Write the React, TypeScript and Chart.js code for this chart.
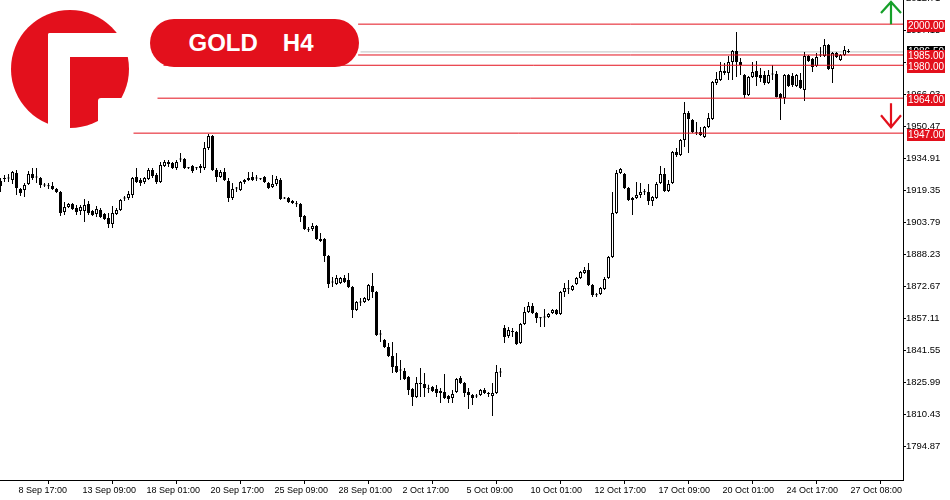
import React, { useEffect, useRef } from "react";
import { Chart, registerables } from "chart.js";

Chart.register(...registerables);

const opens = [
  1923.7, 1924.7, 1925.2, 1924.2, 1927.6, 1919.8, 1919.4, 1922.3, 1927.1, 1925.4,
  1925.2, 1921.8, 1921.5, 1921.3, 1919.8, 1918.4, 1908.7, 1911.1, 1912.5, 1910.6,
  1909.1, 1909.1, 1912.5, 1909.1, 1907.7, 1909.6, 1907.7, 1905.7, 1902.8, 1907.7,
  1909.6, 1915.2, 1915.5, 1916.9, 1925.7, 1924.2, 1923.2, 1924.7, 1929.1, 1926.6,
  1923.2, 1931.0, 1932.0, 1932.5, 1930.1, 1934.2, 1934.4, 1930.1, 1931.0, 1929.9,
  1930.1, 1930.1, 1939.8, 1945.6, 1929.1, 1925.7, 1928.1, 1923.7, 1915.5, 1920.1,
  1919.4, 1923.2, 1924.2, 1925.7, 1924.9, 1924.9, 1925.7, 1922.8, 1920.8, 1922.3,
  1924.2, 1915.2, 1915.5, 1914.0, 1912.7, 1912.5, 1906.7, 1900.1, 1900.4, 1901.9,
  1895.5, 1895.5, 1887.3, 1874.4, 1873.6, 1874.1, 1876.6, 1875.6, 1872.2, 1861.0,
  1864.7, 1864.9, 1865.9, 1872.7, 1869.8, 1849.1, 1846.4, 1843.0, 1838.6, 1833.8,
  1831.6, 1831.3, 1828.4, 1822.6, 1818.7, 1825.3, 1825.0, 1822.8, 1823.6, 1822.6,
  1821.6, 1821.1, 1819.2, 1818.2, 1821.1, 1827.9, 1825.5, 1821.1, 1819.7, 1819.0,
  1819.7, 1822.1, 1820.5, 1819.2, 1820.6, 1830.6, 1852.3, 1848.4, 1850.3, 1850.3,
  1845.0, 1854.2, 1860.0, 1862.9, 1859.5, 1857.3, 1857.3, 1857.6, 1859.5, 1861.0,
  1859.1, 1869.8, 1871.4, 1870.7, 1873.6, 1876.6, 1879.0, 1880.5, 1873.2, 1868.5,
  1868.8, 1871.2, 1876.6, 1886.8, 1908.2, 1927.6, 1927.1, 1920.3, 1915.5, 1915.5,
  1916.9, 1918.5, 1918.4, 1914.0, 1915.5, 1922.8, 1927.1, 1918.9, 1922.8, 1937.8,
  1936.4, 1943.7, 1956.8, 1953.4, 1947.3, 1947.6, 1945.1, 1950.0, 1953.9, 1971.4,
  1972.8, 1976.2, 1976.2, 1981.6, 1986.9, 1981.6, 1975.3, 1965.6, 1974.3, 1977.2,
  1975.3, 1975.3, 1971.4, 1975.5, 1975.8, 1966.0, 1964.1, 1975.3, 1974.8, 1969.9,
  1972.8, 1968.0, 1984.5, 1983.1, 1979.7, 1984.8, 1984.5, 1989.9, 1978.2, 1986.0,
  1982.6, 1985.0, 1986.7,
];

const highs = [
  1925.2, 1926.6, 1927.1, 1928.6, 1929.1, 1920.3, 1922.8, 1928.6, 1930.1, 1930.1,
  1925.7, 1922.8, 1922.8, 1923.2, 1920.3, 1918.9, 1913.5, 1913.0, 1913.0, 1912.1,
  1912.1, 1915.0, 1914.0, 1909.6, 1911.6, 1910.6, 1908.2, 1908.2, 1911.6, 1910.6,
  1915.0, 1916.4, 1918.9, 1925.7, 1930.1, 1925.2, 1925.7, 1930.1, 1930.1, 1927.6,
  1933.0, 1933.9, 1933.9, 1933.0, 1933.9, 1937.3, 1934.9, 1930.5, 1931.5, 1930.5,
  1932.0, 1942.7, 1946.6, 1946.1, 1930.1, 1929.1, 1930.1, 1925.2, 1922.8, 1920.8,
  1923.7, 1924.7, 1928.1, 1928.1, 1926.6, 1925.2, 1926.2, 1923.2, 1926.6, 1926.2,
  1925.2, 1916.0, 1916.0, 1914.5, 1914.0, 1913.0, 1907.2, 1901.4, 1903.3, 1902.3,
  1898.4, 1896.0, 1887.8, 1877.0, 1878.0, 1877.1, 1878.0, 1879.0, 1872.7, 1865.4,
  1866.8, 1867.3, 1873.6, 1879.0, 1870.2, 1851.3, 1846.9, 1845.0, 1845.4, 1840.1,
  1836.7, 1832.8, 1828.9, 1823.1, 1828.4, 1832.8, 1830.4, 1824.6, 1824.1, 1824.5,
  1823.1, 1829.9, 1819.7, 1822.1, 1827.9, 1828.9, 1826.0, 1823.1, 1820.2, 1820.2,
  1822.6, 1823.1, 1821.1, 1825.5, 1834.3, 1832.8, 1853.7, 1852.7, 1852.3, 1850.8,
  1854.7, 1862.5, 1864.9, 1864.4, 1860.0, 1857.6, 1861.5, 1859.5, 1861.5, 1861.5,
  1870.2, 1874.1, 1875.6, 1873.2, 1877.1, 1880.0, 1881.9, 1883.9, 1873.6, 1869.3,
  1872.2, 1877.1, 1887.3, 1918.4, 1929.1, 1930.1, 1927.6, 1920.8, 1916.0, 1923.2,
  1922.8, 1919.8, 1922.3, 1916.4, 1923.2, 1931.0, 1930.1, 1924.2, 1938.3, 1939.8,
  1944.2, 1962.1, 1957.8, 1953.9, 1952.4, 1950.0, 1950.5, 1956.8, 1972.4, 1976.7,
  1981.6, 1981.1, 1984.5, 1987.4, 1996.2, 1983.5, 1975.8, 1974.8, 1981.6, 1982.1,
  1978.7, 1977.2, 1977.7, 1980.1, 1977.2, 1966.5, 1975.8, 1975.8, 1976.2, 1975.8,
  1976.2, 1986.5, 1985.0, 1983.5, 1986.0, 1988.9, 1992.8, 1990.3, 1986.5, 1986.5,
  1985.5, 1989.4, 1987.9,
];

const lows = [
  1918.4, 1923.2, 1923.2, 1922.3, 1916.9, 1916.4, 1916.0, 1921.8, 1924.2, 1922.8,
  1920.3, 1920.8, 1919.8, 1919.4, 1917.9, 1906.7, 1907.2, 1910.6, 1909.6, 1907.2,
  1907.2, 1903.8, 1907.2, 1906.7, 1906.2, 1905.7, 1904.8, 1900.9, 1900.9, 1907.2,
  1909.1, 1914.0, 1914.5, 1915.5, 1922.8, 1921.3, 1922.3, 1924.2, 1925.2, 1922.3,
  1922.8, 1930.5, 1930.5, 1929.6, 1929.1, 1933.0, 1929.6, 1929.6, 1927.6, 1929.1,
  1927.6, 1929.1, 1938.8, 1928.6, 1923.2, 1925.2, 1923.7, 1913.5, 1914.5, 1918.4,
  1918.9, 1922.3, 1923.7, 1923.7, 1923.7, 1924.2, 1922.8, 1919.8, 1920.3, 1921.3,
  1914.5, 1915.0, 1913.0, 1912.5, 1911.1, 1903.8, 1899.9, 1898.9, 1899.4, 1895.0,
  1894.1, 1884.3, 1871.7, 1872.2, 1873.2, 1873.6, 1874.1, 1871.7, 1857.1, 1860.5,
  1862.9, 1864.4, 1865.4, 1866.8, 1848.4, 1845.4, 1842.5, 1838.2, 1830.4, 1830.4,
  1827.0, 1827.0, 1819.7, 1814.3, 1818.2, 1818.7, 1818.7, 1820.6, 1821.1, 1818.7,
  1815.8, 1817.7, 1815.8, 1815.8, 1820.6, 1825.0, 1818.7, 1812.9, 1814.8, 1818.2,
  1819.2, 1820.2, 1818.7, 1809.5, 1820.2, 1828.4, 1845.0, 1847.4, 1847.9, 1844.0,
  1844.5, 1853.7, 1859.5, 1859.1, 1854.7, 1852.7, 1852.7, 1857.1, 1859.1, 1858.6,
  1858.6, 1867.3, 1868.8, 1870.2, 1873.2, 1876.1, 1878.5, 1872.7, 1867.3, 1867.3,
  1868.3, 1870.7, 1876.1, 1886.3, 1907.7, 1927.1, 1919.8, 1914.0, 1907.2, 1915.0,
  1915.5, 1916.9, 1912.1, 1911.6, 1915.0, 1922.3, 1918.4, 1918.4, 1922.3, 1935.4,
  1935.9, 1940.3, 1937.3, 1947.1, 1946.1, 1945.6, 1944.6, 1949.5, 1953.4, 1970.4,
  1972.4, 1975.3, 1972.8, 1972.8, 1974.3, 1975.3, 1964.1, 1965.1, 1973.8, 1969.9,
  1971.9, 1970.4, 1970.9, 1972.8, 1964.3, 1953.4, 1961.2, 1969.4, 1969.4, 1969.4,
  1968.5, 1962.6, 1981.6, 1976.7, 1979.2, 1984.0, 1984.0, 1977.7, 1971.4, 1983.5,
  1982.1, 1984.5, 1986.0,
];

const closes = [
  1921.3, 1925.2, 1924.9, 1928.1, 1920.3, 1917.9, 1921.8, 1927.1, 1925.2, 1925.7,
  1921.8, 1921.5, 1921.2, 1919.8, 1918.4, 1908.2, 1911.1, 1912.5, 1910.1, 1908.7,
  1911.1, 1912.1, 1908.2, 1907.2, 1910.1, 1906.2, 1905.3, 1902.8, 1908.2, 1909.6,
  1914.5, 1915.5, 1917.4, 1925.2, 1923.2, 1922.8, 1925.2, 1929.1, 1926.2, 1923.2,
  1931.5, 1933.0, 1933.0, 1930.1, 1933.0, 1934.5, 1930.1, 1929.9, 1928.6, 1930.1,
  1931.0, 1939.8, 1945.6, 1929.1, 1925.7, 1928.1, 1924.2, 1915.5, 1919.8, 1920.4,
  1923.2, 1924.2, 1925.2, 1924.2, 1925.2, 1924.6, 1923.2, 1920.3, 1922.3, 1924.7,
  1915.0, 1915.5, 1913.5, 1913.0, 1912.4, 1906.2, 1900.4, 1899.8, 1901.9, 1895.5,
  1894.6, 1887.3, 1873.6, 1874.7, 1876.6, 1876.6, 1874.6, 1872.2, 1861.0, 1864.9,
  1865.0, 1866.8, 1873.2, 1869.8, 1848.8, 1849.4, 1843.0, 1838.6, 1833.3, 1830.9,
  1831.9, 1827.5, 1822.1, 1818.7, 1825.5, 1825.0, 1823.1, 1822.5, 1821.6, 1820.6,
  1820.6, 1818.2, 1817.7, 1820.2, 1827.5, 1825.5, 1820.6, 1819.7, 1818.2, 1819.3,
  1822.1, 1820.6, 1820.2, 1820.6, 1830.9, 1830.9, 1847.9, 1851.3, 1850.8, 1844.5,
  1854.2, 1860.0, 1862.9, 1859.5, 1857.1, 1857.0, 1857.6, 1859.1, 1861.0, 1859.1,
  1869.8, 1871.7, 1871.1, 1872.7, 1876.6, 1879.5, 1880.5, 1873.2, 1868.3, 1868.2,
  1871.7, 1876.1, 1886.8, 1908.2, 1927.6, 1929.6, 1920.3, 1914.5, 1914.5, 1916.9,
  1918.4, 1918.2, 1914.0, 1916.0, 1922.3, 1927.1, 1918.9, 1922.3, 1937.8, 1936.4,
  1943.7, 1956.8, 1953.9, 1947.6, 1947.0, 1946.1, 1950.0, 1954.4, 1971.9, 1973.3,
  1977.2, 1977.2, 1981.6, 1986.9, 1981.6, 1980.1, 1965.6, 1974.3, 1976.7, 1974.3,
  1973.8, 1971.4, 1975.3, 1975.8, 1964.6, 1964.1, 1975.3, 1969.9, 1970.4, 1975.3,
  1969.0, 1984.5, 1982.1, 1979.2, 1984.0, 1985.1, 1989.9, 1978.2, 1986.0, 1984.0,
  1985.0, 1987.4, 1986.5,
];

const xTickIndex = [4, 20, 36, 52, 68, 84, 100, 116, 132, 148, 164, 180, 196, 212];
const xTickLabels = [
  "8 Sep 17:00", "13 Sep 09:00", "18 Sep 01:00", "20 Sep 17:00", "25 Sep 09:00",
  "28 Sep 01:00", "2 Oct 17:00", "5 Oct 09:00", "10 Oct 01:00", "12 Oct 17:00",
  "17 Oct 09:00", "20 Oct 01:00", "24 Oct 17:00", "27 Oct 08:00",
];

const yTickValues = [
  1794.87, 1810.43, 1825.99, 1841.55, 1857.11, 1872.67, 1888.23, 1903.79,
  1919.35, 1934.91, 1950.47, 1966.03, 1981.59, 1997.15, 2012.71,
];

const levelValues = [2000, 1985, 1980, 1964, 1947];
const levelStartIndex = [89.4, 89.4, 40.75, 39.25, 33.25];
const priceLineStartIndex = 90;

const X_MIN = -0.125;
const X_MAX = 225.625;
const Y_MIN = 1778.34;
const Y_MAX = 2011.74;

const RED = "#e3101c";
const GREEN = "#16a02a";
const FONT = "'Liberation Sans', Arial, sans-serif";

export default function App() {
  const ref = useRef<HTMLCanvasElement>(null);

  useEffect(() => {
    const prevMargin = document.body.style.margin;
    document.body.style.margin = "0";
    const canvas = ref.current;
    if (!canvas) return;

    const idx = opens.map((_, i) => i);
    const lastClose = closes[closes.length - 1];

    const wickData = idx.map((i) => ({ x: i, y: [lows[i], highs[i]] }));
    const bodyData = idx.map((i) => ({ x: i, y: [opens[i], closes[i]] }));
    const isUp = (i: number) => closes[i] >= opens[i];

    const levelSets = levelValues.map((lv, k) => ({
      type: "line" as const,
      data: [
        { x: levelStartIndex[k], y: lv },
        { x: X_MAX, y: lv },
      ],
      borderColor: RED,
      borderWidth: 1,
      pointRadius: 0,
      order: 0,
    }));

    const priceLine = {
      type: "line" as const,
      data: [
        { x: priceLineStartIndex, y: lastClose },
        { x: X_MAX, y: lastClose },
      ],
      borderColor: "#c0c0c0",
      borderWidth: 1,
      pointRadius: 0,
      order: 3,
    };

    const labelsPlugin = {
      id: "levelLabels",
      afterDraw(chart: any) {
        const { ctx, chartArea, scales } = chart;
        const y = scales.y;
        const bx = chartArea.right + 4;
        const bw = 38;
        const bh = 12;
        ctx.save();
        ctx.font = `10px ${FONT}`;
        ctx.textAlign = "center";
        ctx.textBaseline = "middle";

        const py = y.getPixelForValue(lastClose);
        ctx.fillStyle = "#000";
        ctx.fillRect(bx, Math.round(py - 6), bw, bh);
        ctx.fillStyle = "#fff";
        ctx.fillText(lastClose.toFixed(2), bx + bw / 2, Math.round(py) + 0.5);

        const order = [0, 3, 4, 2, 1];
        order.forEach((k) => {
          const lv = levelValues[k];
          const ly = y.getPixelForValue(lv) + 1.5;
          ctx.fillStyle = RED;
          ctx.fillRect(bx, Math.round(ly - 6), bw, bh);
          ctx.fillStyle = "#fff";
          ctx.fillText(lv.toFixed(2), bx + bw / 2, Math.round(ly) + 0.5);
        });

        const cx = chartArea.right - 12;
        const topY = y.getPixelForValue(levelValues[0]);
        const lowY = y.getPixelForValue(levelValues[3]);
        ctx.lineWidth = 2.2;
        ctx.lineCap = "butt";
        ctx.strokeStyle = GREEN;
        ctx.beginPath();
        ctx.moveTo(cx, topY);
        ctx.lineTo(cx, chartArea.top + 3);
        ctx.moveTo(cx - 10, chartArea.top + 13);
        ctx.lineTo(cx, chartArea.top + 2);
        ctx.lineTo(cx + 10, chartArea.top + 13);
        ctx.stroke();

        ctx.strokeStyle = RED;
        ctx.beginPath();
        ctx.moveTo(cx, lowY + 5);
        ctx.lineTo(cx, lowY + 28);
        ctx.moveTo(cx - 10, lowY + 17);
        ctx.lineTo(cx, lowY + 29);
        ctx.lineTo(cx + 10, lowY + 17);
        ctx.stroke();
        ctx.restore();
      },
    };

    const chart = new Chart(canvas, {
      type: "bar",
      data: {
        datasets: [
          ...levelSets,
          priceLine,
          {
            type: "bar",
            data: bodyData,
            barThickness: 3,
            grouped: false,
            borderWidth: 1,
            borderSkipped: false,
            inflateAmount: 0,
            minBarLength: 1,
            borderColor: "#000",
            backgroundColor: (c: any) => (isUp(c.dataIndex) ? "#ffffff" : "#000000"),
            order: 1,
          },
          {
            type: "bar",
            data: wickData,
            barThickness: 1,
            grouped: false,
            borderWidth: 0,
            inflateAmount: 0,
            backgroundColor: "#000",
            order: 2,
          },
        ] as any,
      },
      options: {
        responsive: false,
        animation: false,
        events: [],
        layout: { padding: 0 },
        plugins: {
          legend: { display: false },
          tooltip: { enabled: false },
        },
        scales: {
          x: {
            type: "linear",
            min: X_MIN,
            max: X_MAX,
            offset: false,
            grid: {
              display: true,
              drawOnChartArea: false,
              drawTicks: true,
              tickLength: 4,
              color: "#000",
            },
            border: { display: true, color: "#000", width: 1 },
            ticks: {
              autoSkip: false,
              maxRotation: 0,
              minRotation: 0,
              align: "start",
              labelOffset: 2,
              padding: 1,
              color: "#000",
              font: { family: FONT, size: 9 },
              callback: (_v: any, i: number) => xTickLabels[i] ?? "",
            },
            afterBuildTicks: (s: any) => {
              s.ticks = xTickIndex.map((v) => ({ value: v }));
            },
            afterFit: (s: any) => {
              s.height = 20;
              s.paddingLeft = 0;
              s.paddingRight = 0;
            },
          },
          y: {
            position: "right",
            min: Y_MIN,
            max: Y_MAX,
            grid: {
              display: true,
              drawOnChartArea: false,
              drawTicks: true,
              tickLength: 3,
              color: "#000",
            },
            border: { display: true, color: "#000", width: 1 },
            ticks: {
              autoSkip: false,
              padding: 0,
              color: "#000",
              font: { family: FONT, size: 9.5 },
              callback: (v: any) => Number(v).toFixed(2),
            },
            afterBuildTicks: (s: any) => {
              s.ticks = yTickValues.map((v) => ({ value: v }));
            },
            afterFit: (s: any) => {
              s.width = 47;
              s.paddingTop = 0;
              s.paddingBottom = 0;
            },
          },
        },
      } as any,
      plugins: [labelsPlugin],
    });

    return () => {
      chart.destroy();
      document.body.style.margin = prevMargin;
    };
  }, []);

  return (
    <div
      style={{
        position: "absolute",
        left: 0,
        top: 0,
        width: 950,
        height: 500,
        overflow: "hidden",
        background: "#fff",
      }}
    >
      <canvas ref={ref} width={950} height={500} style={{ position: "absolute", left: 0, top: 0 }} />
      <svg
        width={132}
        height={130}
        style={{ position: "absolute", left: 0, top: 0 }}
        viewBox="0 0 132 130"
      >
        <circle cx={70} cy={69} r={59} fill={RED} />
        <rect x={48} y={33} width={22} height={97} rx={2} fill="#fff" />
        <rect x={48} y={33} width={84} height={24} rx={2} fill="#fff" />
        <rect x={98} y={98} width={34} height={32} rx={3} fill="#fff" />
      </svg>
      <div
        style={{
          position: "absolute",
          left: 150,
          top: 19,
          width: 209,
          height: 48,
          borderRadius: 24,
          background: RED,
          color: "#fff",
          fontFamily: FONT,
          fontWeight: "bold",
          fontSize: 24,
          lineHeight: "48px",
          display: "flex",
          alignItems: "center",
          justifyContent: "center",
          paddingRight: 7,
          boxSizing: "border-box",
        }}
      >
        <span>GOLD</span>
        <span style={{ marginLeft: 25 }}>H4</span>
      </div>
    </div>
  );
}
